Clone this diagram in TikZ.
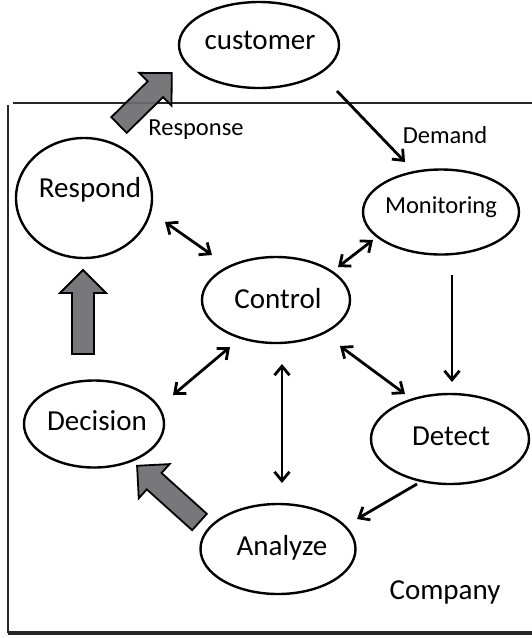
\documentclass[tikz,border=0pt]{standalone}
\usepackage{fontspec}
\setmainfont{Carlito}
\usetikzlibrary{shapes.geometric,arrows.meta}
\definecolor{blockgray}{RGB}{108,108,112}
\tikzset{
  oval/.style={ellipse, draw=black, line width=2.4pt, inner sep=0pt},
  bigtxt/.style={anchor=base, inner sep=0pt, font=\fontsize{29}{34}\selectfont},
  smalltxt/.style={anchor=base, inner sep=0pt, font=\fontsize{24.5}{29}\selectfont},
  conn/.style={line width=2.8pt, -{Straight Barb[length=9pt,width=15pt]}},
  dconn/.style={line width=2.8pt, {Straight Barb[length=9pt,width=15pt]}-{Straight Barb[length=9pt,width=15pt]}},
  frame/.style={line width=2.2pt, draw=black!85},
  pics/blockarrow/.style={code={
    \draw[fill=blockgray, fill opacity=0.92, draw=black, line width=1.8pt, line join=miter]
      (0,-11) -- ({#1-23},-11) -- ({#1-23},-23) -- (#1,0) -- ({#1-23},23) -- ({#1-23},11) -- (0,11) -- cycle;
  }}
}
\begin{document}
\begin{tikzpicture}[x=1pt,y=-1pt]
\useasboundingbox (0,0) rectangle (532,638);
% company frame
\draw[frame] (13,103) -- (532,103);
\draw[frame] (8,105) -- (8,633);
\draw[frame, line width=3.2pt] (8,633) -- (532,633);
% ellipses
\node[oval, minimum width=160pt, minimum height=86pt] (cust) at (259,45) {};
\node[oval, minimum width=136pt, minimum height=120pt] (respond) at (84,198) {};
\node[oval, minimum width=156pt, minimum height=85pt] (monit) at (441,212) {};
\node[oval, minimum width=148pt, minimum height=86pt] (control) at (276,300) {};
\node[oval, minimum width=140pt, minimum height=87pt] (decision) at (94,424) {};
\node[oval, minimum width=158pt, minimum height=90pt] (detect) at (450,439) {};
\node[oval, minimum width=155pt, minimum height=90pt] (analyze) at (278,549) {};
% texts
\node[bigtxt] (custtxt) at (260,49) {customer};
\node[bigtxt] (resptxt) at (90,197) {Respond};
\node[smalltxt] (monittxt) at (441,213) {Monitoring};
\node[bigtxt] (controltxt) at (278,308) {Control};
\node[bigtxt] (decisiontxt) at (97,430) {Decision};
\node[bigtxt] (detecttxt) at (451,445) {Detect};
\node[bigtxt] (analyzetxt) at (282,555) {Analyze};
\node[bigtxt] (company) at (445,599) {Company};
\node[smalltxt] (response) at (196,135) {Response};
\node[smalltxt] (demand) at (445,143) {Demand};
% connectors
\draw[conn] ([shift={(78,46)}]cust.center) -- ([shift={(-36,-50)}]monit.center);
\draw[dconn] ([shift={(-68,28)}]monit.center) -- ([shift={(62,-33)}]control.center);
\draw[conn] ([shift={(11,63)}]monit.center) -- ([shift={(2,-57)}]detect.center);
\draw[dconn] ([shift={(81,24)}]respond.center) -- ([shift={(-64,-45)}]control.center);
\draw[dconn] ([shift={(-46,47)}]control.center) -- ([shift={(79,-29)}]decision.center);
\draw[dconn] ([shift={(6,64)}]control.center) -- ([shift={(4,-66)}]analyze.center);
\draw[dconn] ([shift={(64,46)}]control.center) -- ([shift={(-45,-45)}]detect.center);
\draw[conn] ([shift={(-33,45)}]detect.center) -- ([shift={(79,-30)}]analyze.center);
% block arrows
\pic[rotate=90] at ([shift={(-11,-70)}]decision.center) {blockarrow=84};
\pic[rotate=138] at ([shift={(-78.5,-27)}]analyze.center) {blockarrow=84};
\pic[rotate=44.5] at ([shift={(35,-73)}]respond.center) {blockarrow=74};
\end{tikzpicture}
\end{document}
